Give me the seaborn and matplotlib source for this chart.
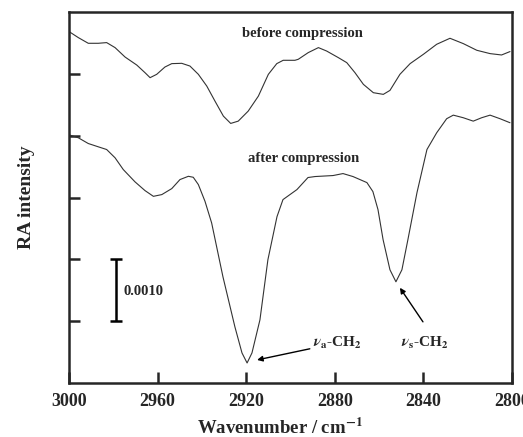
import numpy as np
import pandas as pd
import matplotlib
matplotlib.use("Agg")
import matplotlib.pyplot as plt
import seaborn as sns

# ---- data (wavenumber in cm-1, RA intensity offset-stacked) ----
wn_before = [3000.0, 2995.8, 2991.3, 2986.8, 2983.0, 2979.2, 2974.7, 2969.4, 2965.7,
             2963.4, 2960.4, 2956.7, 2953.6, 2949.1, 2945.4, 2941.6, 2937.8, 2934.1,
             2930.3, 2927.0, 2923.6, 2919.1, 2914.5, 2910.0, 2906.2, 2903.3, 2898.0,
             2896.5, 2892.0, 2887.4, 2883.7, 2878.4, 2874.6, 2870.9, 2867.1, 2862.6,
             2858.1, 2855.1, 2850.6, 2846.0, 2840.0, 2834.0, 2828.0, 2822.0, 2815.9,
             2809.9, 2804.7, 2800.9]
ra_before = [0.005684, 0.005586, 0.005494, 0.005494, 0.005505, 0.005424, 0.005272,
             0.005142, 0.005019, 0.004938, 0.004992, 0.005110, 0.005165, 0.005170,
             0.005126, 0.004992, 0.004802, 0.004559, 0.004316, 0.004198, 0.004235,
             0.004397, 0.004640, 0.004992, 0.005165, 0.005219, 0.005219, 0.005235,
             0.005343, 0.005424, 0.005369, 0.005262, 0.005181, 0.005019, 0.004830,
             0.004695, 0.004668, 0.004732, 0.004992, 0.005165, 0.005316, 0.005478,
             0.005575, 0.005489, 0.005381, 0.005327, 0.005305, 0.005360]

wn_after = [2999.5, 2995.8, 2991.3, 2986.8, 2983.0, 2979.2, 2975.5, 2970.2, 2965.7,
            2961.9, 2958.1, 2953.6, 2949.9, 2946.1, 2943.9, 2941.6, 2938.6, 2935.6,
            2930.5, 2925.1, 2921.9, 2919.6, 2917.4, 2913.8, 2910.2, 2906.1, 2903.4,
            2897.1, 2892.1, 2888.9, 2880.8, 2876.3, 2871.8, 2865.5, 2862.8, 2860.5,
            2858.2, 2855.1, 2852.4, 2849.7, 2847.0, 2842.9, 2838.4, 2834.0, 2829.5,
            2826.5, 2822.0, 2817.5, 2813.7, 2809.9, 2805.4, 2800.9]
ra_after = [0.004008, 0.003966, 0.003873, 0.003820, 0.003776, 0.003642, 0.003452,
            0.003253, 0.003112, 0.003019, 0.003047, 0.003144, 0.003290, 0.003343,
            0.003327, 0.003209, 0.002938, 0.002588, 0.001718, 0.000908, 0.000486,
            0.000324, 0.000486, 0.001021, 0.001994, 0.002690, 0.002966, 0.003128,
            0.003323, 0.003339, 0.003355, 0.003387, 0.003339, 0.003241, 0.003096,
            0.002804, 0.002318, 0.001831, 0.001637, 0.001831, 0.002318, 0.003079,
            0.003776, 0.004047, 0.004274, 0.004332, 0.004290, 0.004235, 0.004290,
            0.004332, 0.004274, 0.004209]

series_labels = ["before compression", "after compression"]
x_ticks = [3000, 2960, 2920, 2880, 2840, 2800]
y_ticks = [0.001, 0.002, 0.003, 0.004, 0.005]
scale_bar_value = 0.0010

df = pd.DataFrame({
    "wn": wn_before + wn_after,
    "ra": ra_before + ra_after,
    "series": [series_labels[0]] * len(wn_before) + [series_labels[1]] * len(wn_after),
})

sns.set_style("ticks")
plt.rcParams["font.family"] = ["Liberation Serif", "DejaVu Serif"]
plt.rcParams["font.weight"] = "bold"
plt.rcParams["mathtext.fontset"] = "stix"

fig = plt.figure(figsize=(5.23, 4.37), dpi=100)
ax = fig.add_axes([69 / 523, 1 - 383 / 437, (512 - 69) / 523, (383 - 12) / 437])

sns.lineplot(data=df, x="wn", y="ra", hue="series", units="series", estimator=None,
             sort=False, palette=["#333333", "#333333"], linewidth=0.8,
             legend=False, ax=ax)

ax.set_xlim(3000, 2800)
ax.set_ylim(0, 0.006)
ax.set_xticks(x_ticks)
ax.set_xticklabels([str(t) for t in x_ticks], fontsize=13, fontweight="bold")
ax.set_yticks(y_ticks)
ax.set_yticklabels([])
ax.tick_params(axis="both", direction="in", length=8, width=1.8)
ax.tick_params(axis="x", pad=7)
for s in ax.spines.values():
    s.set_linewidth(1.8)
    s.set_visible(True)

ax.set_xlabel("Wavenumber / cm$^{\\mathbf{-1}}$", fontsize=13.5, fontweight="bold")
ax.xaxis.set_label_coords(0.476, -0.093)
ax.set_ylabel("RA intensity", fontsize=14, fontweight="bold", labelpad=21)

ax.text(2894.8, 0.005656, series_labels[0], ha="center", va="center",
        fontsize=10.5, fontweight="bold")
ax.text(2894.0, 0.003630, series_labels[1], ha="center", va="center",
        fontsize=10.5, fontweight="bold")

# scale bar
ax.errorbar([2978.8], [0.0015], yerr=[scale_bar_value / 2], color="black",
            capsize=4.5, elinewidth=1.8, capthick=1.8, fmt="none")
ax.text(2975.6, 0.001475, f"{scale_bar_value:.4f}", ha="left", va="center",
        fontsize=10.5, fontweight="bold")

# peak annotations
ax.annotate(r"$\nu_\mathbf{a}$-CH$_\mathbf{2}$", xy=(2915.1, 0.000373),
            xytext=(2889.8, 0.000648), ha="left", va="center",
            fontsize=11, fontweight="bold",
            arrowprops=dict(arrowstyle="-|>", color="black", lw=1.0,
                            mutation_scale=8, shrinkA=0, shrinkB=0))
ax.annotate("", xy=(2850.6, 0.00154), xytext=(2840.2, 0.000989),
            arrowprops=dict(arrowstyle="-|>", color="black", lw=1.0,
                            mutation_scale=8, shrinkA=0, shrinkB=0))
ax.text(2839.3, 0.000648, r"$\nu_\mathbf{s}$-CH$_\mathbf{2}$", ha="center", va="center",
        fontsize=11, fontweight="bold")

fig.savefig("out.png", dpi=100)
